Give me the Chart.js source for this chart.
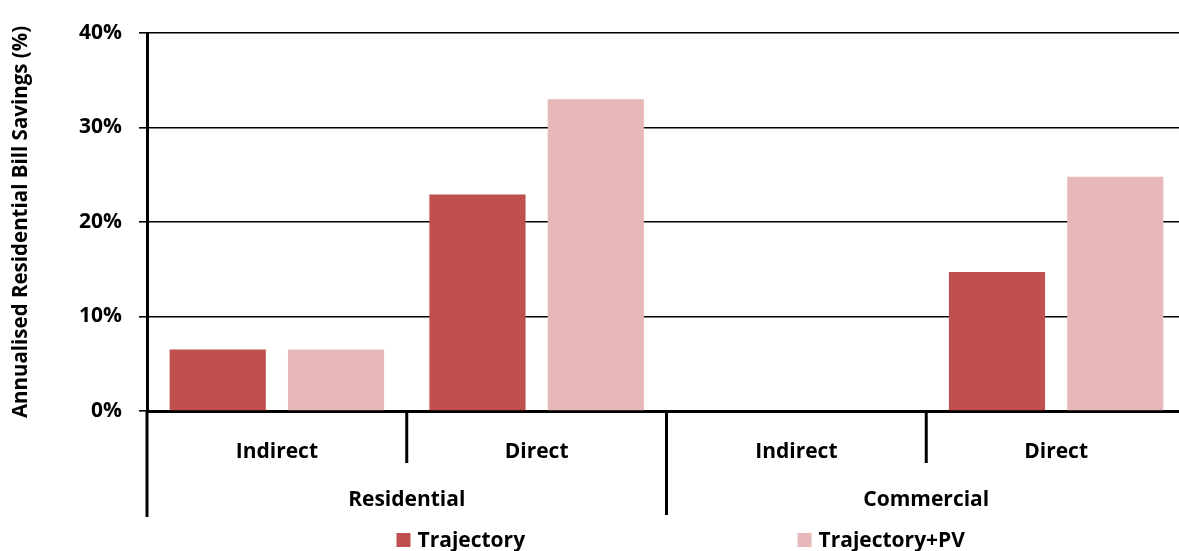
<!DOCTYPE html>
<html>
<head>
<meta charset="utf-8">
<script src="https://cdn.jsdelivr.net/npm/chart.js@4"></script>
<style>
	html, body { margin: 0; padding: 0; background: #fff; overflow: hidden; }
	#wrap { width: 1186px; height: 551px; }
</style>
</head>
<body>
<div id="wrap"><canvas id="chart" width="1186" height="551"></canvas></div>
<script>
// savings by connection type, grouped by sector
const subCategories = ["Indirect", "Direct", "Indirect", "Direct"];
const groups = ["Residential", "Commercial"];
const trajectory = [6.5, 22.9, 0, 14.7];
const trajectoryPV = [6.5, 33.0, 0, 24.8];
const yTicks = [0, 10, 20, 30, 40];

const FONT = "'Open Sans', sans-serif";

// two-level category axis + legend, drawn under the plot
const groupAxis = {
	id: "groupAxis"
	, afterDraw(chart) {
		const ctx = chart.ctx;
		const x = chart.scales.x;
		const area = chart.chartArea;
		const catW = (x.right - x.left) / subCategories.length;
		const per = subCategories.length / groups.length;

		ctx.save();
		ctx.strokeStyle = "#000";
		ctx.lineWidth = 3;
		// y axis continues down past the category labels
		ctx.beginPath();
		ctx.moveTo(area.left, area.bottom);
		ctx.lineTo(area.left, area.bottom + 106);
		ctx.stroke();

		for (let i = 1; i <= subCategories.length; i++) {
			const bx = x.left + i * catW;
			const len = i % per === 0 ? 104 : 52;
			ctx.beginPath();
			ctx.moveTo(bx, area.bottom);
			ctx.lineTo(bx, area.bottom + len);
			ctx.stroke();
		}

		ctx.fillStyle = "#000";
		ctx.font = "bold 21px " + FONT;
		ctx.textAlign = "center";
		ctx.textBaseline = "middle";
		groups.forEach((g, i) => {
			const cx = x.left + (i + 0.5) * per * catW;
			ctx.fillText(g, cx, area.bottom + 89);
		});

		// legend
		const ly = area.bottom + 129;
		let lx = (area.left + area.right) / 2 - 270;
		ctx.textAlign = "left";
		chart.data.datasets.forEach(ds => {
			ctx.fillStyle = ds.backgroundColor;
			ctx.fillRect(lx, ly - 7, 14, 14);
			ctx.fillStyle = "#000";
			ctx.fillText(ds.label, lx + 21, ly + 1);
			lx += 401;
		});
		ctx.restore();
	}
};

new Chart(document.getElementById("chart"), {
	type: "bar"
	, data: {
		labels: subCategories
		, datasets: [{
			label: "Trajectory"
			, data: trajectory
			, backgroundColor: "#C0504D"
		}, {
			label: "Trajectory+PV"
			, data: trajectoryPV
			, backgroundColor: "#E6B9B8"
		}]
	}
	, options: {
		responsive: false
		, animation: false
		, layout: { padding: { top: 33, left: 0, right: 0, bottom: 0 } }
		, categoryPercentage: 0.911
		, barPercentage: 0.813
		, plugins: {
			legend: { display: false }
			, tooltip: { enabled: false }
		}
		, scales: {
			x: {
				afterFit: s => { s.height = 140; }
				, grid: { display: false }
				, border: { color: "#000", width: 3 }
				, ticks: {
					color: "#000"
					, padding: 20
					, font: { family: FONT, size: 21, weight: "bold" }
				}
			}
			, y: {
				min: 0
				, max: 40
				, afterFit: s => { s.width = 147; }
				, afterBuildTicks: s => { s.ticks = yTicks.map(v => ({ value: v })); }
				, border: { color: "#000", width: 3 }
				, grid: {
					color: "#000"
					, lineWidth: 1.6
					, tickLength: 8
				}
				, ticks: {
					color: "#000"
					, padding: 17
					, font: { family: FONT, size: 21, weight: "bold" }
					, callback: v => v + "%"
				}
				, title: {
					display: true
					, text: "Annualised Residential Bill Savings (%)"
					, color: "#000"
					, padding: { top: 9, bottom: 0 }
					, font: { family: FONT, size: 20.5, weight: "bold" }
				}
			}
		}
	}
	, plugins: [groupAxis]
});
</script>
</body>
</html>
